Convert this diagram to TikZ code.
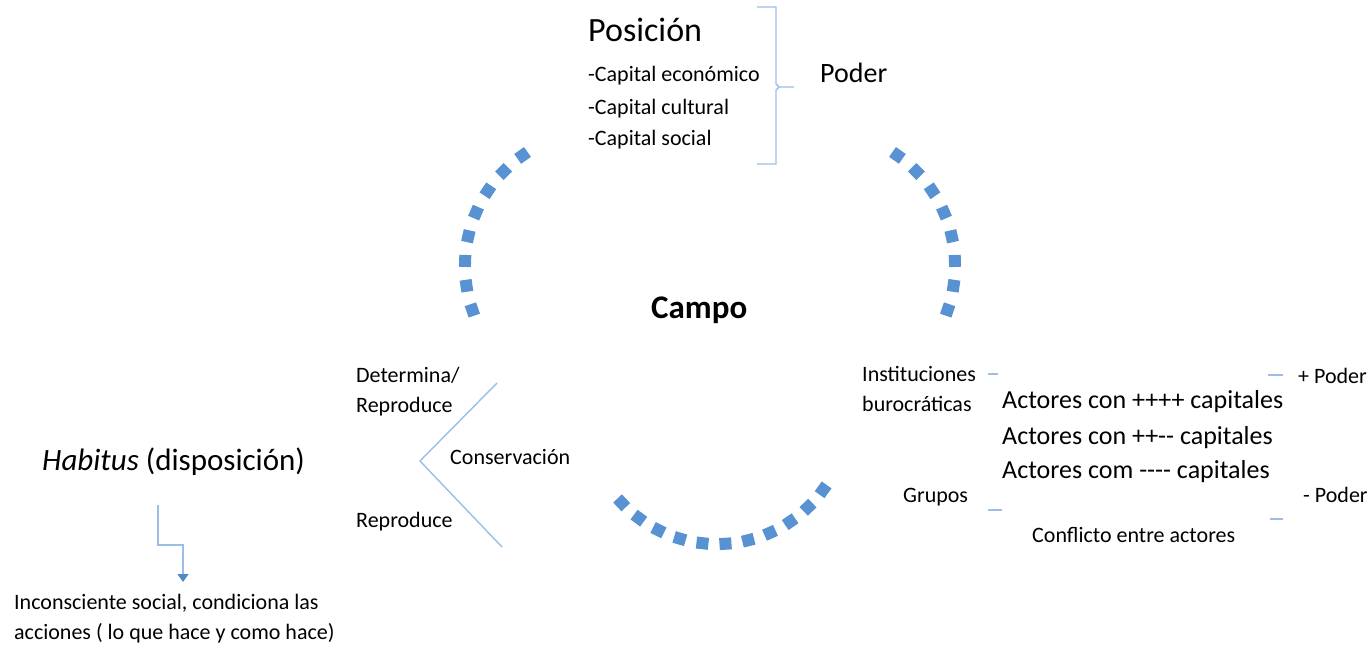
\documentclass[tikz,border=0pt]{standalone}
\usepackage{fontspec}
\setmainfont{Carlito}
\usepackage{xcolor}
\definecolor{cycblue}{RGB}{88,146,210}
\definecolor{linblue}{RGB}{155,189,230}
\definecolor{arrblue}{RGB}{84,135,196}
\usepackage{tikz}
\usetikzlibrary{arrows.meta, calc}

\tikzset{
  txt/.style={anchor=base west, inner sep=0pt, font=\fontsize{22}{26}\selectfont},
  midtxt/.style={anchor=base west, inner sep=0pt, font=\fontsize{26}{30}\selectfont},
  bigtxt/.style={anchor=base west, inner sep=0pt, font=\fontsize{28}{32}\selectfont},
  conn/.style={linblue, line width=1.4pt},
}

\begin{document}
\begin{tikzpicture}[x=1pt, y=1pt]
  \useasboundingbox (0,0) rectangle (1372,-647);

  % --- Cycle arcs around Campo ---
  \foreach \i [evaluate=\i as \a using 125+\i*10.571] in {0,...,7}
    \fill[cycblue, shift={(600,-266)}, rotate=\a] (129,-6) rectangle (141,6);
  \foreach \i [evaluate=\i as \a using 55-\i*10.571] in {0,...,7}
    \fill[cycblue, shift={(820,-266)}, rotate=\a] (129,-6) rectangle (141,6);
  \foreach \i [evaluate=\i as \a using -136.7+\i*10.08] in {0,...,10}
    \fill[cycblue, shift={(717,-413)}, rotate=\a] (125,-6) rectangle (137,6);
  \node[anchor=base west, inner sep=0pt, font=\fontsize{33}{38}\selectfont\bfseries]
       (campo) at (651,-318) {Campo};

  % --- Top: Posicion / Poder ---
  \node[anchor=base west, inner sep=0pt, font=\fontsize{34}{40}\selectfont]
       (posicion) at (588,-42) {Posición};
  \node[txt] (capeco) at (588,-82) {-Capital económico};
  \node[txt] (capcul) at (588,-115) {-Capital cultural};
  \node[txt] (capsoc) at (588,-146) {-Capital social};
  % bracket
  \draw[conn] (757,-7) -- (776,-7) -- (776,-84) -- (779,-87) -- (794,-87);
  \draw[conn] (779,-87) -- (776,-90) -- (776,-164) -- (757,-164);
  \node[bigtxt] (poder) at (820,-83) {Poder};

  % --- Left: Habitus ---
  \node[txt] (determina) at (356,-382) {Determina/};
  \node[txt] (reprod1) at (356,-412) {Reproduce};
  \node[txt] (conserv) at (450,-464) {Conservación};
  \node[txt] (reprod2) at (356,-527) {Reproduce};
  \draw[conn] (497,-383) -- (420,-461) -- (502,-547);
  \node[anchor=base west, inner sep=0pt, font=\fontsize{31}{36}\selectfont]
       (habitus) at (42,-470) {\textit{Habitus} (disposición)};
  \node[txt] (incons1) at (14,-609) {Inconsciente social, condiciona las};
  \node[txt] (incons2) at (14,-639) {acciones ( lo que hace y como hace)};
  \coordinate (habout) at (158,-505);
  \coordinate (incin) at (183,-582);
  \draw[conn, -{Triangle[width=11pt, length=8pt, fill=arrblue, color=arrblue]}]
       (habout) -- ++(0,-40) -| (incin);

  % --- Right: actores ---
  \node[txt] (inst1) at (862,-381) {Instituciones};
  \node[txt] (inst2) at (862,-411) {burocráticas};
  \node[txt] (grupos) at (903,-502) {Grupos};
  \node[midtxt] (act1) at (1002,-408) {Actores con ++++ capitales};
  \node[midtxt] (act2) at (1002,-444) {Actores con ++{-}{-} capitales};
  \node[midtxt] (act3) at (1002,-478) {Actores com {-}{-}{-}{-} capitales};
  \node[txt] (maspoder) at (1298,-383) {+ Poder};
  \node[txt] (menpoder) at (1303,-502) {- Poder};
  \node[txt] (conflicto) at (1032,-542) {Conflicto entre actores};
  \draw[conn] (988,-374) -- (998,-374);
  \draw[conn] (1268,-375) -- (1283,-375);
  \draw[conn] (988,-510) -- (1002,-510);
  \draw[conn] (1270,-519) -- (1283,-519);
\end{tikzpicture}
\end{document}
